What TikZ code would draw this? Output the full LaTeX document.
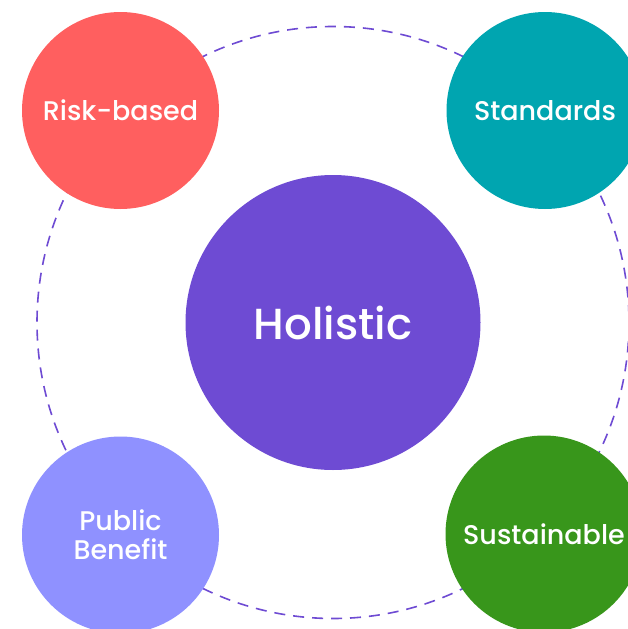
\documentclass[tikz,border=0pt]{standalone}
\usepackage{fontspec}
\setmainfont{Poppins}[UprightFont=*-Medium]
\definecolor{riskc}{HTML}{FF5F5F}
\definecolor{stdc}{HTML}{00A5B0}
\definecolor{holc}{HTML}{6E4BD3}
\definecolor{pubc}{HTML}{8F91FF}
\definecolor{susc}{HTML}{38961B}
\definecolor{dashc}{HTML}{6E4BD3}
\begin{document}
\begin{tikzpicture}[x=1pt,y=-1pt,
  bubble/.style={circle, minimum size=197pt, inner sep=0pt, text=white, font=\fontsize{27}{29}\selectfont, align=center},
  hub/.style={circle, minimum size=295pt, inner sep=0pt, fill=holc, text=white, font=\fontsize{43.5}{46}\selectfont},
  ring/.style={draw=dashc, line width=1.6pt, dash pattern=on 11pt off 8pt}]
\useasboundingbox (0,0) rectangle (628,629);
\coordinate (c) at (333,322.5);
\draw[ring] (c) circle[radius=296];
\node[hub] (hol) at (c) {Holistic};
\node[bubble, fill=riskc] (risk) at (120.5,110.5) {Risk-based};
\node[bubble, fill=stdc] (std) at (545,110.5) {Standards};
\node[bubble, fill=pubc] (pub) at (120.5,535) {Public\\Benefit};
\node[bubble, fill=susc] (sus) at (544,534) {Sustainable};
\end{tikzpicture}
\end{document}
